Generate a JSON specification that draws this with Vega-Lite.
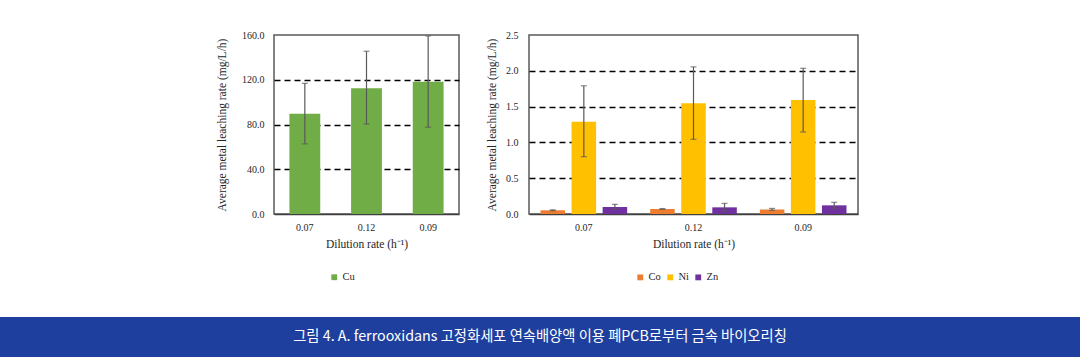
{
  "$schema": "https://vega.github.io/schema/vega-lite/v6.json",
  "padding": {"top": 29, "left": 0, "right": 0, "bottom": 0},
  "background": "white",
  "spacing": 33,
  "config": {
    "font": "Liberation Serif",
    "view": {"stroke": "#595959", "strokeWidth": 1.5},
    "axis": {
      "labelFont": "Liberation Serif",
      "titleFont": "Liberation Serif",
      "labelFontSize": 10,
      "titleFontSize": 11.5,
      "titleFontWeight": "normal",
      "labelColor": "#262626",
      "titleColor": "#262626",
      "ticks": false
    },
    "legend": {
      "labelFont": "Liberation Serif",
      "labelFontSize": 10.5,
      "labelColor": "#262626",
      "symbolType": "square",
      "symbolSize": 34,
      "symbolStrokeWidth": 0,
      "labelOffset": 3,
      "columnPadding": 4
    }
  },
  "datasets": {
    "cu": [
      {"rate": "0.07", "metal": "Cu", "value": 89.6, "lo": 62.7, "hi": 116.8},
      {"rate": "0.12", "metal": "Cu", "value": 112.4, "lo": 80.4, "hi": 145.5},
      {"rate": "0.09", "metal": "Cu", "value": 118.3, "lo": 77.6, "hi": 159.2}
    ],
    "others": [
      {"rate": "0.07", "metal": "Co", "value": 0.052, "lo": 0.046, "hi": 0.058},
      {"rate": "0.07", "metal": "Ni", "value": 1.29, "lo": 0.8, "hi": 1.79},
      {"rate": "0.07", "metal": "Zn", "value": 0.098, "lo": 0.068, "hi": 0.135},
      {"rate": "0.12", "metal": "Co", "value": 0.07, "lo": 0.065, "hi": 0.076},
      {"rate": "0.12", "metal": "Ni", "value": 1.546, "lo": 1.043, "hi": 2.055},
      {"rate": "0.12", "metal": "Zn", "value": 0.093, "lo": 0.04, "hi": 0.148},
      {"rate": "0.09", "metal": "Co", "value": 0.063, "lo": 0.05, "hi": 0.078},
      {"rate": "0.09", "metal": "Ni", "value": 1.592, "lo": 1.145, "hi": 2.035},
      {"rate": "0.09", "metal": "Zn", "value": 0.121, "lo": 0.08, "hi": 0.163}
    ],
    "caption": [
      {"caption": "그림 4.  A. ferrooxidans 고정화세포 연속배양액 이용 폐PCB로부터 금속 바이오리칭"}
    ]
  },
  "vconcat": [
    {
      "spacing": 25,
      "resolve": {"scale": {"color": "independent", "y": "independent"}, "legend": {"color": "independent"}, "axis": {"y": "independent"}},
      "hconcat": [
        {
          "width": 190,
          "height": 10,
          "data": {"values": []},
          "mark": "point",
          "view": {"stroke": null}
        },
        {
          "width": 185,
          "height": 179,
          "data": {"name": "cu"},
          "encoding": {
            "x": {
              "field": "rate",
              "type": "nominal",
              "sort": ["0.07", "0.12", "0.09"],
              "scale": {"paddingInner": 0.5, "paddingOuter": 0.25},
              "axis": {
                "labelAngle": 0,
                "title": "Dilution rate (h⁻¹)",
                "labelPadding": 8,
                "titlePadding": 6,
                "domainColor": "#404040",
                "domainWidth": 1.5
              }
            },
            "y": {
              "field": "value",
              "type": "quantitative",
              "scale": {"domain": [0, 160], "nice": false},
              "axis": {
                "values": [0, 40, 80, 120, 160],
                "format": ".1f",
                "title": "Average  metal leaching rate (mg/L/h)",
                "grid": true,
                "gridColor": "black",
                "gridDash": [6, 4],
                "gridWidth": 1.4,
                "gridOpacity": {"condition": {"test": "datum.value <= 0 || datum.value >= 160", "value": 0}, "value": 1},
                "domain": false,
                "labelPadding": 10,
                "titlePadding": 14
              }
            }
          },
          "layer": [
            {
              "mark": {"type": "bar"},
              "encoding": {
                "color": {
                  "field": "metal",
                  "type": "nominal",
                  "scale": {"domain": ["Cu"], "range": ["#70ad47"]},
                  "legend": {"orient": "none", "legendX": 55, "legendY": 237, "direction": "horizontal", "title": null}
                }
              }
            },
            {
              "mark": {"type": "rule", "color": "#595959", "strokeWidth": 1.2},
              "encoding": {
                "y": {"field": "lo", "type": "quantitative"},
                "y2": {"field": "hi"}
              }
            },
            {
              "mark": {"type": "tick", "color": "#595959", "size": 6, "thickness": 1.2},
              "encoding": {"y": {"field": "lo", "type": "quantitative"}}
            },
            {
              "mark": {"type": "tick", "color": "#595959", "size": 6, "thickness": 1.2},
              "encoding": {"y": {"field": "hi", "type": "quantitative"}}
            }
          ]
        },
        {
          "width": 329,
          "height": 179,
          "data": {"name": "others"},
          "encoding": {
            "x": {
              "field": "rate",
              "type": "nominal",
              "sort": ["0.07", "0.12", "0.09"],
              "scale": {"paddingInner": 0.21, "paddingOuter": 0.105},
              "axis": {
                "labelAngle": 0,
                "title": "Dilution rate (h⁻¹)",
                "labelPadding": 8,
                "titlePadding": 6,
                "domainColor": "#404040",
                "domainWidth": 1.5
              }
            },
            "xOffset": {
              "field": "metal",
              "type": "nominal",
              "sort": ["Co", "Ni", "Zn"],
              "scale": {"paddingInner": 0.21, "paddingOuter": 0}
            },
            "y": {
              "field": "value",
              "type": "quantitative",
              "scale": {"domain": [0, 2.5], "nice": false},
              "axis": {
                "values": [0, 0.5, 1, 1.5, 2, 2.5],
                "format": ".1f",
                "title": "Average  metal leaching rate (mg/L/h)",
                "grid": true,
                "gridColor": "black",
                "gridDash": [6, 4],
                "gridWidth": 1.4,
                "gridOpacity": {"condition": {"test": "datum.value <= 0 || datum.value >= 2.5", "value": 0}, "value": 1},
                "domain": false,
                "labelPadding": 11,
                "titlePadding": 8
              }
            }
          },
          "layer": [
            {
              "mark": {"type": "bar"},
              "encoding": {
                "color": {
                  "field": "metal",
                  "type": "nominal",
                  "scale": {"domain": ["Co", "Ni", "Zn"], "range": ["#ed7d31", "#ffc000", "#7030a0"]},
                  "legend": {"orient": "none", "legendX": 106, "legendY": 237, "direction": "horizontal", "title": null}
                }
              }
            },
            {
              "mark": {"type": "rule", "color": "#595959", "strokeWidth": 1.2},
              "encoding": {
                "y": {"field": "lo", "type": "quantitative"},
                "y2": {"field": "hi"}
              }
            },
            {
              "mark": {"type": "tick", "color": "#595959", "size": 6, "thickness": 1.2},
              "encoding": {"y": {"field": "lo", "type": "quantitative"}}
            },
            {
              "mark": {"type": "tick", "color": "#595959", "size": 6, "thickness": 1.2},
              "encoding": {"y": {"field": "hi", "type": "quantitative"}}
            }
          ]
        }
      ]
    },
    {
      "width": 1080,
      "height": 40,
      "view": {"fill": "#1e3f9e", "stroke": null},
      "data": {"name": "caption"},
      "mark": {"type": "text", "font": "Noto Sans CJK KR", "fontSize": 14.3, "color": "white", "baseline": "middle"},
      "encoding": {"text": {"field": "caption"}}
    }
  ]
}
